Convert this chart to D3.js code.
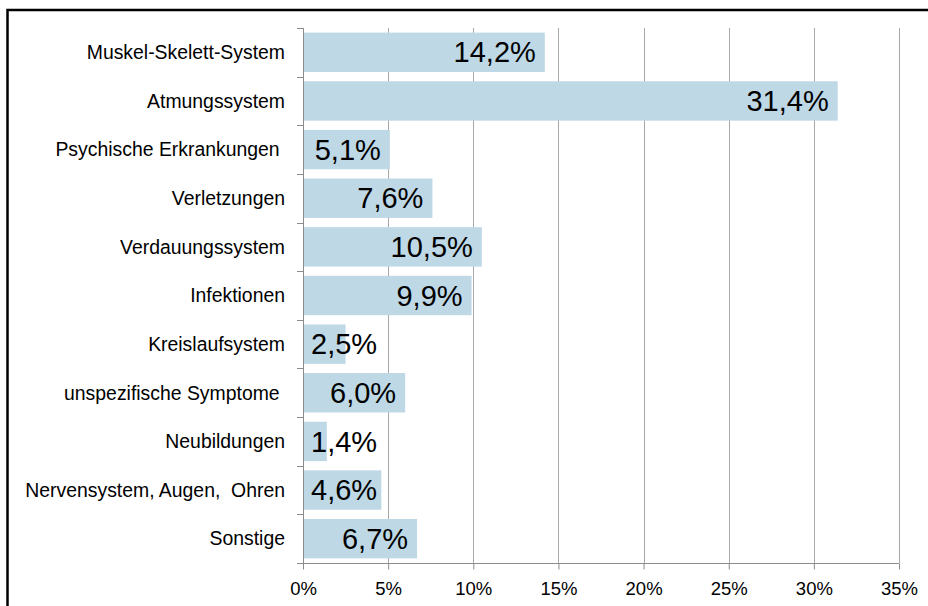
<!DOCTYPE html>
<html>
<head>
<meta charset="utf-8">
<script src="https://cdn.jsdelivr.net/npm/d3@7"></script>
<style>
  html, body { margin: 0; padding: 0; background: #fff; }
  svg { display: block; font-family: "Liberation Sans", Arial, sans-serif; }
  text { white-space: pre; }
</style>
</head>
<body>
<svg id="chart" width="928" height="606"></svg>
<script>
const categories = [
  "Muskel-Skelett-System",
  "Atmungssystem",
  "Psychische Erkrankungen ",
  "Verletzungen",
  "Verdauungssystem",
  "Infektionen",
  "Kreislaufsystem",
  "unspezifische Symptome ",
  "Neubildungen",
  "Nervensystem, Augen,  Ohren",
  "Sonstige"
];
const values = [14.2, 31.4, 5.1, 7.6, 10.5, 9.9, 2.5, 6.0, 1.4, 4.6, 6.7];
const xTicks = [0, 5, 10, 15, 20, 25, 30, 35];

(function() {
const svg = d3.select("#chart");
const pLeft = 303, pRight = 899, pTop = 28, pBottom = 563;

// outer frame
svg.append("rect")
  .attr("x", 7.5).attr("y", 10)
  .attr("width", 940).attr("height", 620)
  .attr("fill", "none").attr("stroke", "#000").attr("stroke-width", 2.5);

const x = d3.scaleLinear().domain([0, 35]).range([pLeft, pRight]);
const y = d3.scaleBand().domain(categories).range([pTop, pBottom])
  .paddingInner(0.19).paddingOuter(0.095);

const fmt = v => d3.format(".1f")(v).replace(".", ",") + "%";

// gridlines
svg.append("g").selectAll("line").data(xTicks.filter(d => d > 0)).join("line")
  .attr("x1", d => Math.round(x(d)) + 0.5).attr("x2", d => Math.round(x(d)) + 0.5)
  .attr("y1", pTop).attr("y2", pBottom)
  .attr("stroke", "#a8a8a8").attr("stroke-width", 1);

// bars
svg.append("g").selectAll("rect").data(values).join("rect")
  .attr("x", x(0))
  .attr("y", (d, i) => y(categories[i]))
  .attr("width", d => x(d) - x(0))
  .attr("height", y.bandwidth())
  .attr("fill", "#BED8E6");

// x axis
const xAxis = svg.append("g").attr("transform", `translate(0,${pBottom + 0.5})`)
  .call(d3.axisBottom(x).tickValues(xTicks).tickFormat(d => d + "%").tickSize(6).tickPadding(12));
xAxis.select(".domain").attr("stroke", "#8c8c8c").attr("d", `M${pLeft},0H${pRight}`);
xAxis.selectAll(".tick line").attr("stroke", "#8c8c8c");
xAxis.selectAll(".tick text").attr("font-size", "18.5px").attr("fill", "#000")
  .attr("font-family", "Liberation Sans, Arial, sans-serif");

// y axis line + boundary ticks
const yg = svg.append("g");
yg.append("line").attr("x1", pLeft + 0.5).attr("x2", pLeft + 0.5)
  .attr("y1", pTop).attr("y2", pBottom + 6).attr("stroke", "#8c8c8c");
const n = categories.length;
const bounds = d3.range(n + 1).map(i => pTop + i * (pBottom - pTop) / n);
yg.selectAll("line.t").data(bounds).join("line").attr("class", "t")
  .attr("x1", pLeft - 6).attr("x2", pLeft)
  .attr("y1", d => Math.round(d) + 0.5).attr("y2", d => Math.round(d) + 0.5)
  .attr("stroke", "#8c8c8c");

// category labels
const bandC = i => pTop + (i + 0.5) * (pBottom - pTop) / n;
svg.append("g").selectAll("text").data(categories).join("text")
  .attr("x", 285)
  .attr("y", (d, i) => bandC(i))
  .attr("dy", "0.35em")
  .attr("text-anchor", "end")
  .attr("font-size", "19.4px")
  .attr("fill", "#000")
  .text(d => d);

// value labels
svg.append("g").selectAll("text").data(values).join("text")
  .attr("y", (d, i) => bandC(i))
  .attr("dy", "0.35em")
  .attr("font-size", "29px")
  .attr("fill", "#000")
  .text(d => fmt(d))
  .each(function(d) {
    const w = this.getComputedTextLength();
    const endX = Math.max(x(d) - 9, x(0) + 8 + w);
    d3.select(this).attr("x", endX).attr("text-anchor", "end");
  });
})();
</script>
</body>
</html>
